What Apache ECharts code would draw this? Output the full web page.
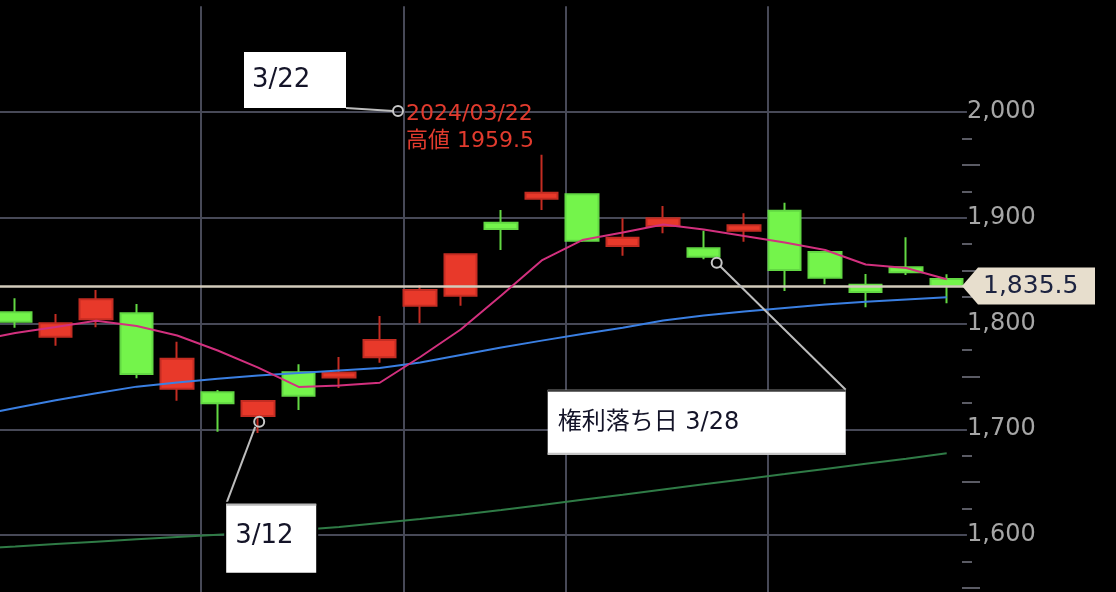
<!DOCTYPE html>
<html><head><meta charset="utf-8">
<script src="https://cdn.jsdelivr.net/npm/echarts@6/dist/echarts.min.js"></script>
<style>html,body{margin:0;padding:0;background:#000;overflow:hidden;width:1116px;height:592px;position:relative}
#c{position:absolute;left:-60px;top:-60px;width:1176px;height:712px}</style>
</head><body><div id="c"></div>
<script>
// ---- data ----
const dates = ['2024/03/01','2024/03/04','2024/03/05','2024/03/06','2024/03/07','2024/03/08','2024/03/11','2024/03/12','2024/03/13','2024/03/14','2024/03/15','2024/03/18','2024/03/19','2024/03/21','2024/03/22','2024/03/25','2024/03/26','2024/03/27','2024/03/28','2024/03/29','2024/04/01','2024/04/02','2024/04/03','2024/04/04','2024/04/05'];
const openP  = [null,1810.6,1787.5,1804.0,1809.6,1738.3,1734.9,1712.5,1753.9,1748.9,1768.0,1816.8,1826.3,1895.3,1918.0,1922.2,1873.3,1892.2,1871.1,1887.8,1906.7,1867.6,1836.7,1853.1,1842.1];
const closeP = [null,1801.7,1800.2,1822.9,1752.2,1766.7,1724.5,1726.7,1731.7,1753.7,1784.4,1831.7,1865.4,1889.4,1923.7,1878.3,1881.1,1899.5,1863.2,1892.9,1850.6,1843.3,1829.8,1848.4,1835.5];
const lowP   = [null,1796.0,1779.0,1796.4,1748.2,1727.0,1697.7,1696.5,1718.2,1739.0,1762.9,1800.2,1816.8,1869.5,1907.3,1877.0,1864.1,1885.3,1860.7,1877.4,1830.7,1837.1,1815.3,1845.9,1819.1];
const highP  = [null,1823.8,1809.0,1831.7,1818.4,1782.8,1737.1,1727.7,1761.4,1768.3,1807.1,1836.4,1865.4,1907.3,1959.5,1922.2,1899.5,1911.1,1887.8,1904.2,1914.2,1867.6,1846.8,1881.5,1846.5];
const ma5  = [1783.5,1791.0,1796.7,1802.6,1797.6,1788.7,1774.5,1758.2,1740.0,1741.4,1744.0,1768.3,1794.3,1826.5,1859.6,1878.9,1886.0,1893.6,1888.9,1882.7,1876.6,1869.5,1855.8,1852.5,1841.8];
const ma25 = [1712.5,1720.1,1727.4,1734.0,1740.3,1744.2,1747.8,1750.8,1753.2,1755.6,1757.9,1763.1,1770.2,1777.3,1783.8,1790.1,1796.0,1802.8,1807.6,1811.3,1814.7,1818.0,1820.5,1822.7,1824.8];
const ma75 = [1587.0,1589.2,1591.5,1593.7,1595.9,1598.1,1600.3,1602.4,1604.7,1607.5,1611.3,1615.2,1619.2,1623.6,1628.4,1633.3,1638.1,1643.0,1648.0,1652.8,1657.6,1662.5,1667.4,1672.2,1677.2];
const yTickLabels = ['1,600','1,700','1,800','1,900','2,000'];
const yTickValues = [1600,1700,1800,1900,2000];
const weekStarts = ['2024/03/04','2024/03/11','2024/03/18','2024/03/25','2024/04/01'];
const lastPrice = 1835.5;
const highDate = '2024/03/22';
const highValue = 1959.5;
const note312 = {date:'2024/03/12', value:1707, text:'3/12'};
const note328 = {date:'2024/03/28', value:1857.5, text:'権利落ち日 3/28'};
const note322 = {date:'2024/03/22', value:2000, text:'3/22'};

// ---- chart ----
// the chart container is 60px larger on left/top/bottom so that the grid can extend past the visible page
const OX = 60, OY = 60;
const candles = dates.map((d,i)=> openP[i]==null ? '-' : [openP[i], closeP[i], lowP[i], highP[i]]);
const GRID = '#474957';
const chart = echarts.init(document.getElementById('c'), null, {renderer:'canvas'});
const fmt = v => { const k = yTickValues.indexOf(v); return k>=0 ? yTickLabels[k] : ''; };

chart.setOption({
  backgroundColor:'#000',
  animation:false,
  grid:[
    {left:14.45, right:149.05, top:66.25, bottom:11.25},
    {left:14.45, right:154, top:172, bottom:11.25},
    {left:17.75, right:145.75, top:66.25, bottom:0}
  ],
  xAxis:[
    {type:'category', gridIndex:0, data:dates, boundaryGap:true, axisLine:{show:false}, axisTick:{show:false}, axisLabel:{show:false}, splitLine:{show:false}},
    {type:'category', gridIndex:1, data:dates, show:false},
    {type:'category', gridIndex:2, data:dates, boundaryGap:true, axisLine:{show:false}, axisTick:{show:false}, axisLabel:{show:false},
      splitLine:{show:true, showMinLine:false, showMaxLine:false, interval:(i,v)=>weekStarts.indexOf(v)>=0, lineStyle:{color:GRID, width:2}}}
  ],
  yAxis:[
    {type:'value', gridIndex:0, min:1500, max:2100, interval:100, axisLine:{show:false}, axisTick:{show:false}, axisLabel:{show:false},
      splitLine:{show:true, showMinLine:false, showMaxLine:false, lineStyle:{color:GRID, width:2}}},
    {type:'value', gridIndex:1, position:'right', min:1500, max:2000, interval:100, axisLine:{show:false}, axisTick:{show:false},
      axisLabel:{show:true, margin:5, formatter:fmt, color:'#a6a6a6', fontSize:24, fontFamily:'DejaVu Sans'},
      minorTick:{show:true, splitNumber:4, length:10, lineStyle:{color:'#5a5b64', width:2}},
      splitLine:{show:false}},
    {type:'value', gridIndex:1, position:'right', min:1500, max:2000, interval:100, axisLine:{show:false}, axisTick:{show:false}, axisLabel:{show:false},
      minorTick:{show:true, splitNumber:2, length:18, lineStyle:{color:'#5a5b64', width:2}},
      splitLine:{show:false}},
    {type:'value', gridIndex:2, show:false, min:1500, max:2100}
  ],
  series:[
    {type:'candlestick', xAxisIndex:0, yAxisIndex:0, data:candles, barWidth:33, z:2,
      itemStyle:{color:'#e8392a', color0:'#74f44b', borderColor:'#c42c22', borderColor0:'#62d843', borderWidth:2},
      markLine:{silent:true, symbol:'none', label:{show:false}, lineStyle:{color:'#d2cbbb', width:2.5, type:'solid'}, data:[{yAxis:lastPrice}], z:3}
    },
    {type:'line', xAxisIndex:0, yAxisIndex:0, data:ma75, symbol:'none', z:4, lineStyle:{color:'#2f7b46', width:2}},
    {type:'line', xAxisIndex:0, yAxisIndex:0, data:ma25, symbol:'none', z:4, lineStyle:{color:'#3a7fe2', width:2}},
    {type:'line', xAxisIndex:0, yAxisIndex:0, data:ma5, symbol:'none', z:5, lineStyle:{color:'#d2307e', width:2}}
  ]
});

// ---- annotations (positioned from data coordinates) ----
const px = (d,v) => chart.convertToPixel({gridIndex:0}, [d, v]);
const Z = 100;
const LEAD = '#bdbdbd';
const g = [];
const font = (s) => s + 'px "DejaVu Sans", "Noto Sans CJK JP", sans-serif';

// price tag
const py = px(dates[dates.length-1], lastPrice)[1];
const tipX = 962 + OX, tagR = 1095 + OX;
g.push({type:'polygon', z:Z, shape:{points:[[tipX,py],[tipX+16,py-18.5],[tagR,py-18.5],[tagR,py+18.5],[tipX+16,py+18.5]]}, style:{fill:'#e7decd'}});
g.push({type:'text', z:Z+1, x:tipX+21, y:py+1, style:{text:lastPrice.toLocaleString('en-US',{minimumFractionDigits:1}), fill:'#1c2340', font:font(25), verticalAlign:'middle', align:'left'}});

// 3/12 note
const a = px(note312.date, note312.value);
g.push({type:'line', z:Z, shape:{x1:a[0]-3, y1:a[1]+5, x2:a[0]-32, y2:a[1]+82}, style:{stroke:LEAD, lineWidth:2}});
g.push({type:'circle', z:Z, shape:{cx:a[0]+1, cy:a[1], r:5}, style:{fill:null, stroke:'#c8c8c8', lineWidth:2}});
g.push({type:'rect', z:Z, shape:{x:a[0]-34, y:a[1]+80, width:94, height:73}, style:{fill:'#000'}});
g.push({type:'rect', z:Z+1, shape:{x:a[0]-32, y:a[1]+82, width:90, height:69}, style:{fill:'#fff'}});
g.push({type:'rect', z:Z+2, shape:{x:a[0]-32, y:a[1]+82, width:90, height:2}, style:{fill:'#b8b8b8'}});
g.push({type:'text', z:Z+2, x:a[0]-23, y:a[1]+114, style:{text:note312.text, fill:'#141428', font:font(26), verticalAlign:'middle'}});

// 3/28 note
const b = px(note328.date, note328.value);
const bx = b[0]+13, by = b[1];
g.push({type:'line', z:Z, shape:{x1:bx+3, y1:by+3, x2:bx+129, y2:by+127}, style:{stroke:LEAD, lineWidth:2}});
g.push({type:'circle', z:Z, shape:{cx:bx, cy:by, r:5}, style:{fill:null, stroke:'#c8c8c8', lineWidth:2}});
g.push({type:'rect', z:Z+1, shape:{x:bx-169, y:by+127, width:298, height:65}, style:{fill:'#fff'}});
g.push({type:'rect', z:Z+2, shape:{x:bx-169, y:by+127, width:298, height:2}, style:{fill:'#3c3c3c'}});
g.push({type:'rect', z:Z+2, shape:{x:bx-169, y:by+190, width:298, height:2}, style:{fill:'#c4c4c4'}});
g.push({type:'text', z:Z+2, x:bx-159, y:by+160, style:{text:note328.text, fill:'#141428', font:font(24), verticalAlign:'middle'}});

// 3/22 note + high label
const c = px(note322.date, note322.value);
const cx = c[0]-143.7, cy = c[1]-1;
g.push({type:'line', z:Z, shape:{x1:cx-52, y1:cy-3, x2:cx-5, y2:cy}, style:{stroke:LEAD, lineWidth:2}});
g.push({type:'circle', z:Z, shape:{cx:cx, cy:cy, r:5}, style:{fill:null, stroke:'#c8c8c8', lineWidth:2}});
g.push({type:'rect', z:Z+1, shape:{x:cx-154, y:cy-59, width:102, height:56}, style:{fill:'#fff'}});
g.push({type:'text', z:Z+2, x:cx-146, y:cy-31, style:{text:note322.text, fill:'#141428', font:font(26), verticalAlign:'middle'}});
g.push({type:'text', z:Z, x:cx+8, y:cy+3, style:{text:highDate, fill:'#e23b2e', font:font(22), verticalAlign:'middle'}});
g.push({type:'text', z:Z, x:cx+8, y:cy+30, style:{text:'高値 ' + highValue.toFixed(1), fill:'#e23b2e', font:font(22), verticalAlign:'middle'}});

chart.setOption({graphic:g});
</script></body></html>
